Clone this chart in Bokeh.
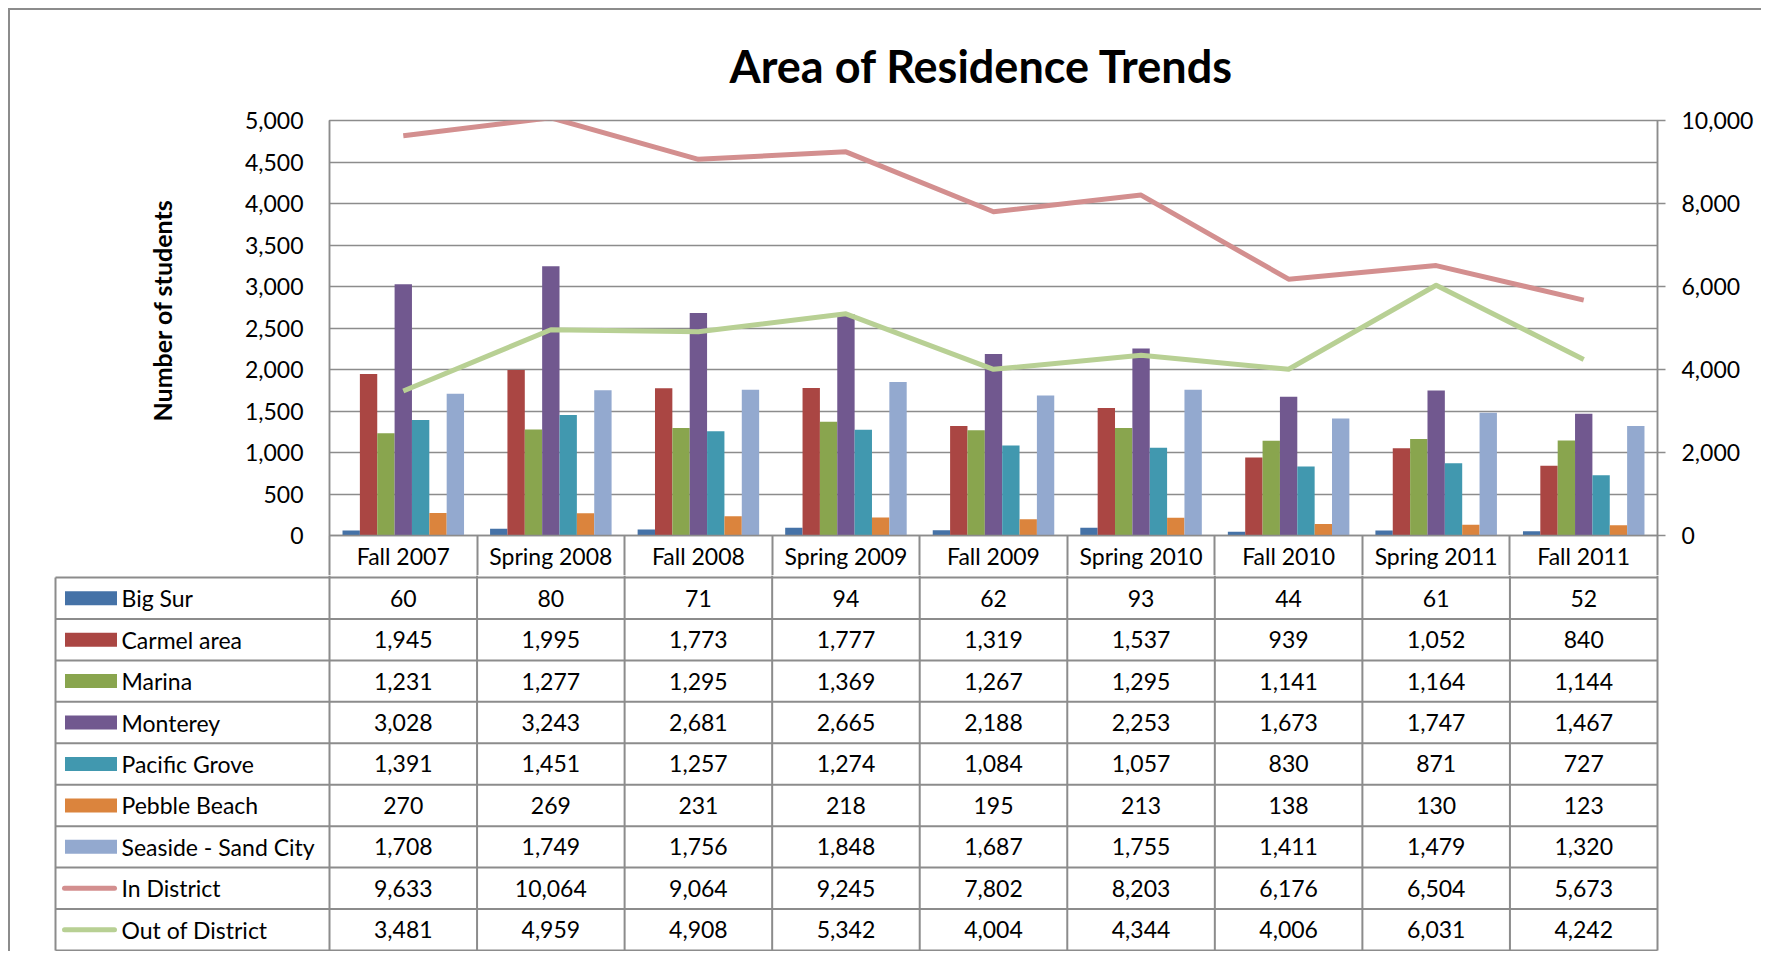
from bokeh.plotting import figure
from bokeh.models import (Range1d, LinearAxis, FixedTicker, Plot,
                          NumeralTickFormatter, Title, ColumnDataSource,
                          CustomJSTickFormatter)
from bokeh.transform import dodge
from bokeh.layouts import column
from bokeh.embed import file_html
from bokeh.resources import INLINE
from bokeh.core.properties import value

# ---------------- data ----------------
categories = ["Fall 2007", "Spring 2008", "Fall 2008", "Spring 2009", "Fall 2009",
              "Spring 2010", "Fall 2010", "Spring 2011", "Fall 2011"]
big_sur = [60, 80, 71, 94, 62, 93, 44, 61, 52]
carmel_area = [1945, 1995, 1773, 1777, 1319, 1537, 939, 1052, 840]
marina = [1231, 1277, 1295, 1369, 1267, 1295, 1141, 1164, 1144]
monterey = [3028, 3243, 2681, 2665, 2188, 2253, 1673, 1747, 1467]
pacific_grove = [1391, 1451, 1257, 1274, 1084, 1057, 830, 871, 727]
pebble_beach = [270, 269, 231, 218, 195, 213, 138, 130, 123]
seaside_sand_city = [1708, 1749, 1756, 1848, 1687, 1755, 1411, 1479, 1320]
in_district = [9633, 10064, 9064, 9245, 7802, 8203, 6176, 6504, 5673]
out_of_district = [3481, 4959, 4908, 5342, 4004, 4344, 4006, 6031, 4242]

bar_names = ["Big Sur", "Carmel area", "Marina", "Monterey", "Pacific Grove",
             "Pebble Beach", "Seaside - Sand City"]
bar_series = [big_sur, carmel_area, marina, monterey, pacific_grove,
              pebble_beach, seaside_sand_city]
line_names = ["In District", "Out of District"]
line_series = [in_district, out_of_district]

left_ticks = list(range(0, 5001, 500))
right_ticks = list(range(0, 10001, 2000))

title_text = "Area of Residence Trends"
y_title_text = "Number of students"

# ---------------- style ----------------
bar_colors = ["#4572A7", "#AA4643", "#89A54E", "#71588F", "#4198AF", "#DB843D", "#93A9CF"]
line_colors = ["#D38F8F", "#B8D094"]
GRID = "#8c8c8c"
FONT = "Lato"
FS = "23px"

FA = dict(frame_align=False) if "frame_align" in Plot.properties() else {}

W = 1753
FRAME_L = 321          # page x 329
FRAME_W = 1328
FRAME_T = 110          # page y 118
FRAME_H = 417          # bottom at page 535
HEAD_H = 40
TOP_H = FRAME_T + FRAME_H + HEAD_H
TAB_H = 376
nc = len(categories)
CAT_W = FRAME_W / nc

# ---------------- chart ----------------
# each category occupies one unit slot on the x scale, centred at index + 0.5
src = ColumnDataSource(dict(cat=categories,
                            xc=[i + 0.5 for i in range(nc)],
                            **{f"s{j}": s for j, s in enumerate(bar_series)},
                            **{f"l{j}": s for j, s in enumerate(line_series)}))

p = figure(width=W, height=TOP_H, x_range=Range1d(0, nc),
           y_range=Range1d(0, 5000), x_axis_location=None,
           toolbar_location=None, output_backend="svg",
           min_border_left=FRAME_L, min_border_right=W - FRAME_L - FRAME_W,
           min_border_top=FRAME_T, min_border_bottom=HEAD_H,
           border_fill_color=None, background_fill_color="white",
           outline_line_color=GRID, outline_line_width=1.5, **FA)

p.title.text = title_text
p.title.align = "left"
p.title.offset = 400
p.title.text_font = FONT
p.title.text_font_size = "45px"
p.title.text_font_style = "bold"
p.title.text_color = "black"
p.title.standoff = 56

ya = p.yaxis[0]
ya.ticker = FixedTicker(ticks=left_ticks)
ya.formatter = NumeralTickFormatter(format="0,0")
ya.major_tick_out = 0
ya.major_tick_in = 0
ya.minor_tick_out = 0
ya.minor_tick_in = 0
ya.major_label_standoff = 26
ya.axis_line_color = GRID
ya.axis_line_width = 1.5
ya.major_label_text_font = FONT
ya.major_label_text_font_size = FS
ya.major_label_text_color = "black"

p.ygrid.ticker = FixedTicker(ticks=left_ticks)
p.ygrid.grid_line_color = GRID
p.ygrid.grid_line_width = 1.5
p.xgrid.visible = False

p.extra_y_ranges = {"right": Range1d(0, 10000)}
ra = LinearAxis(y_range_name="right", ticker=FixedTicker(ticks=right_ticks),
                formatter=NumeralTickFormatter(format="0,0"),
                major_tick_out=8, major_tick_in=0, minor_tick_out=0, minor_tick_in=0,
                major_label_standoff=16, axis_line_color=GRID, axis_line_width=1.5,
                major_tick_line_color=GRID, major_tick_line_width=1.5,
                major_label_text_font=FONT, major_label_text_font_size=FS,
                major_label_text_color="black")
p.add_layout(ra, "right")

# category header row: labels at slot centres, cell borders as long minor ticks
xa = LinearAxis(ticker=FixedTicker(ticks=[i + 0.5 for i in range(nc)],
                                   minor_ticks=list(range(nc + 1))),
                formatter=CustomJSTickFormatter(args=dict(cats=categories),
                                                code="return cats[Math.floor(tick)];"),
                major_tick_out=0, major_tick_in=0,
                minor_tick_out=0, minor_tick_in=-(HEAD_H + 2),
                minor_tick_line_color=GRID, minor_tick_line_width=2,
                axis_line_color=GRID, axis_line_width=1.5,
                major_label_standoff=6, major_label_text_font=FONT,
                major_label_text_font_size=FS, major_label_text_color="black")
p.add_layout(xa, "below")

p.add_layout(Title(text=y_title_text, align="left", text_font=FONT,
                   text_font_size="25px", text_font_style="bold",
                   text_color="black", offset=114, standoff=130), "left")

nb = len(bar_series)
bw = 1 / (nb + 1.5)
for j in range(nb):
    p.vbar(x=dodge("xc", (j - (nb - 1) / 2) * bw), top=f"s{j}", width=bw,
           source=src, fill_color=bar_colors[j], line_color=None)

for j in range(len(line_series)):
    p.line(x="xc", y=f"l{j}", source=src, y_range_name="right",
           line_color=line_colors[j], line_width=5, line_join="round")

# ---------------- data table ----------------
TAB_L = 40                     # frame left page x 48
TAB_R = 100
page_frame_left = 8 + TAB_L
page_cat0 = 8 + FRAME_L
page_tab_left = 55
L = (page_cat0 - page_tab_left) / CAT_W
xs = -(page_cat0 - page_frame_left) / CAT_W
xe = (8 + W - TAB_R - page_cat0) / CAT_W
nrows = nb + len(line_series)
ROW = 41.44
ye = nrows + 2 / ROW
ys = ye - TAB_H / ROW

t = figure(width=W, height=TAB_H, x_range=Range1d(xs, xe), y_range=Range1d(ys, ye),
           x_axis_location=None, y_axis_location=None, toolbar_location=None,
           output_backend="svg", min_border_left=TAB_L, min_border_right=TAB_R,
           min_border_top=0, min_border_bottom=0, border_fill_color=None,
           background_fill_color=None, outline_line_color=None, **FA)
t.grid.visible = False

hy = list(range(0, nrows + 1))
t.segment(x0=[-L] * len(hy), x1=[nc] * len(hy), y0=hy, y1=hy,
          line_color=GRID, line_width=2)
vx = [-L] + list(range(0, nc + 1))
vtop = [nrows] + [ye] * (nc + 1)
t.segment(x0=vx, x1=vx, y0=[0] * len(vx), y1=vtop, line_color=GRID, line_width=2)

names = bar_names + line_names
series = bar_series + line_series
row_y = [nrows - 0.5 - r for r in range(nrows)]

sw_l = (61 - page_cat0) / CAT_W
sw_r = (117 - page_cat0) / CAT_W
t.rect(x=[(sw_l + sw_r) / 2 + 1.5 / CAT_W] * nb, y=row_y[:nb], width=52, height=14,
       width_units="screen", height_units="screen",
       fill_color=bar_colors, line_color=None)
t.segment(x0=[sw_l + 3 / CAT_W] * 2, x1=[sw_r - 3 / CAT_W] * 2, y0=row_y[nb:], y1=row_y[nb:],
          line_color=line_colors, line_width=5, line_cap="round")

t.text(x=[(121 - page_cat0) / CAT_W] * nrows, y=row_y, text=names,
       text_align="left", text_baseline="middle", text_font=value(FONT),
       text_font_size=FS, text_color="black")

vx_, vy_, vt_ = [], [], []
for r, s in enumerate(series):
    for i, v in enumerate(s):
        vx_.append(i + 0.5)
        vy_.append(row_y[r])
        vt_.append(f"{v:,}")
t.text(x=vx_, y=vy_, text=vt_, text_align="center", text_baseline="middle",
       text_font=value(FONT), text_font_size=FS, text_color="black")

layout = column(p, t, margin=(8, 0, 0, 8),
                styles={"box-shadow": "inset 2px 2px 0 0 #8c8c8c"})

open("out.html", "w").write(file_html(layout, INLINE))
